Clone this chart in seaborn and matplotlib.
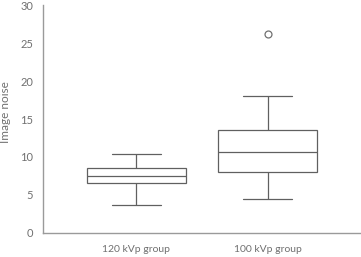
import matplotlib
matplotlib.use("Agg")
import matplotlib.pyplot as plt
import seaborn as sns
import pandas as pd

groups = ["120 kVp group", "100 kVp group"]
noise_120 = [3.65, 6.55, 7.5, 8.5, 10.4]
noise_100 = [4.4, 6.5, 8.0, 9.5, 10.6, 12.0, 13.5, 18.0, 26.2]
y_ticks = [0, 5, 10, 15, 20, 25, 30]
y_label = "Image noise"

df = pd.DataFrame({
    "group": [groups[0]] * len(noise_120) + [groups[1]] * len(noise_100),
    "noise": noise_120 + noise_100,
})

sns.set_style("white")
plt.rcParams["font.family"] = ["Lato", "DejaVu Sans"]

line_c = "#606060"
axis_c = "#9a9a9a"
text_c = "#707070"

fig = plt.figure(figsize=(3.61, 2.57), dpi=100)
ax = fig.add_axes([43 / 361, 1 - 232.7 / 257, 1 - 43 / 361, (232.7 - 5.3) / 257])

sns.boxplot(data=df, x="group", y="noise", order=groups, ax=ax,
            width=0.75, color="white", linecolor=line_c, linewidth=0.9,
            whis=2.0, fliersize=5,
            flierprops=dict(marker="o", markerfacecolor="none",
                            markeredgecolor="#707070", markeredgewidth=0.9))

ax.set_xlim(-0.71, 1.71)
ax.set_ylim(0, 30)
ax.set_yticks(y_ticks)
ax.set_xlabel("")
ax.set_ylabel(y_label, fontsize=8.5, color=text_c)
ax.yaxis.set_label_coords(-0.1, 0.53)

for s in ["top", "right"]:
    ax.spines[s].set_visible(False)
for s in ["left", "bottom"]:
    ax.spines[s].set_color(axis_c)
    ax.spines[s].set_linewidth(1.0)

ax.tick_params(axis="y", direction="in", length=3, width=0.8, color=axis_c,
               labelsize=8, labelcolor=text_c, pad=7)
ax.tick_params(axis="x", direction="in", length=2.5, width=0.8, color=axis_c,
               labelsize=7.5, labelcolor=text_c, pad=9)

fig.savefig("out.png", dpi=100)
